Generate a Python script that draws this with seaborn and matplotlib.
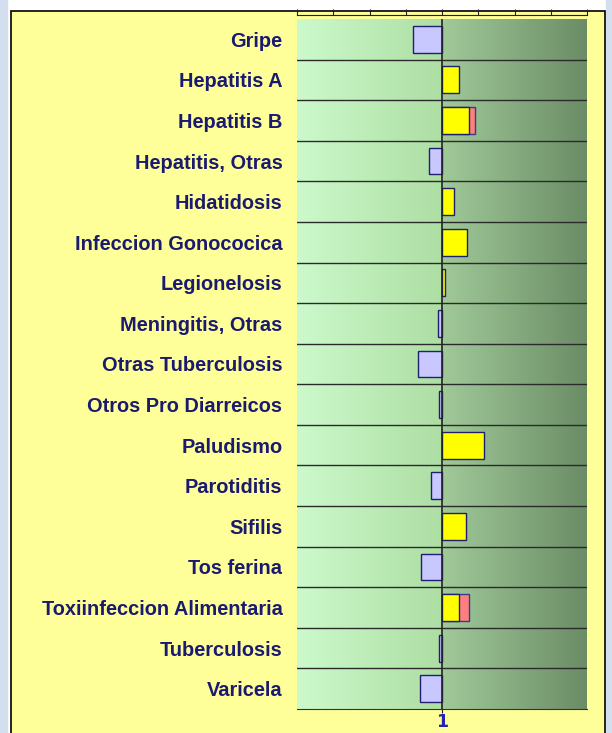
import numpy as np
import pandas as pd
import seaborn as sns
import matplotlib
matplotlib.use("Agg")
from matplotlib import pyplot as plt
from matplotlib.patches import Rectangle

# %%
enfermedades = ['Gripe', 'Hepatitis A', 'Hepatitis B', 'Hepatitis, Otras', 'Hidatidosis',
                'Infeccion Gonococica', 'Legionelosis', 'Meningitis, Otras', 'Otras Tuberculosis',
                'Otros Pro Diarreicos', 'Paludismo', 'Parotiditis', 'Sifilis', 'Tos ferina',
                'Toxiinfeccion Alimentaria', 'Tuberculosis', 'Varicela']
# razon observada / esperada (eje logaritmico, 1 = sin cambio)
razon = [0.575, 1.38, 1.67, 0.78, 1.26, 1.61, 1.06, 0.935, 0.63,
         0.953, 2.23, 0.81, 1.58, 0.67, 1.38, 0.945, 0.66]
# limite superior (tramo rojo), solo donde lo hay
razon_sup = [np.nan, np.nan, 1.88, np.nan, np.nan, np.nan, np.nan, np.nan, np.nan,
             np.nan, np.nan, np.nan, np.nan, np.nan, 1.67, np.nan, np.nan]

df = pd.DataFrame({'enf': enfermedades, 'r': razon, 'sup': razon_sup})
df['lr'] = np.log2(df['r'])
df['lsup'] = np.log2(df['sup'])
df['col'] = np.where(df['r'] < 1, '#C8C8FF', '#FFFF00')

# %%
fig = plt.figure(figsize=(6.12, 7.33), dpi=100, facecolor='white')
W, H = 612, 733
fig.patches.append(Rectangle((0, 0), 7 / W, 1, transform=fig.transFigure, color='#D3DFEE', zorder=-5))
fig.patches.append(Rectangle((606 / W, 0), 6 / W, 1, transform=fig.transFigure, color='#D3DFEE', zorder=-5))
fig.patches.append(Rectangle((11 / W, -0.05), (605 - 11) / W, 1.05 - 11 / H, transform=fig.transFigure,
                             facecolor='#FFFF99', edgecolor='black', lw=1.2, zorder=-4))

ax_top, ax_bot = 19, 709
ax = fig.add_axes([297 / W, 1 - ax_bot / H, (587 - 297) / W, (ax_bot - ax_top) / H])
ax.set_facecolor('none')

# fondo degradado
n = 300
t = np.linspace(0, 1, n)
izq = np.array([0.80, 0.98, 0.80]) + np.outer(t[:n // 2] * 2, np.array([0.68, 0.87, 0.64]) - np.array([0.80, 0.98, 0.80]))
der = np.array([0.63, 0.79, 0.60]) + np.outer((t[n // 2:] - 0.5) * 2, np.array([0.42, 0.55, 0.40]) - np.array([0.63, 0.79, 0.60]))
grad = np.vstack([izq, der])[np.newaxis, :, :]
ax.imshow(grad, extent=[-4, 4, 16.5, -0.5], aspect='auto', zorder=0)

# tramo rojo debajo, barra principal encima
sns.barplot(data=df, x='lsup', y='enf', color='#FF7F7F', saturation=1, width=0.66,
            edgecolor='#3a3a8a', linewidth=1, ax=ax, zorder=2)
sns.barplot(data=df, x='lr', y='enf', hue='enf', palette=list(df['col']), saturation=1, legend=False,
            width=0.66, edgecolor='#1f1f70', linewidth=1, ax=ax, zorder=3)

for i in range(1, len(enfermedades)):
    ax.axhline(i - 0.5, color='#2a2a2a', lw=1, zorder=1)
ax.axvline(0, color='#222222', lw=1.2, zorder=4)

ax.set_xlim(-4, 4)
ax.set_ylim(16.5, -0.5)
ax.set_xlabel('')
ax.set_ylabel('')
for s in ['left', 'right', 'top']:
    ax.spines[s].set_visible(False)
ax.spines['bottom'].set_color('#333333')
ax.set_xticks([0])
ax.set_xticklabels(['1'])
ax.tick_params(axis='x', length=3, color='#222222', pad=0)
ax.tick_params(axis='y', length=0, pad=10.5)
for lab in ax.get_xticklabels():
    lab.set_fontweight('bold')
    lab.set_color('#2424B0')
    lab.set_fontsize(12.5)
    lab.set_fontfamily('DejaVu Sans')
for lab in ax.get_yticklabels():
    lab.set_fontweight('bold')
    lab.set_color('#1a1a70')
    lab.set_fontsize(14.4)
    lab.set_fontfamily('Liberation Sans')

top = ax.secondary_xaxis(1 + 4 / (ax_bot - ax_top))
top.set_xticks(np.arange(-4, 5))
top.set_xticklabels([])
top.tick_params(length=4, color='#222222')
top.spines['top'].set_color('#222222')

fig.savefig('out.png', dpi=100, facecolor=fig.get_facecolor())
